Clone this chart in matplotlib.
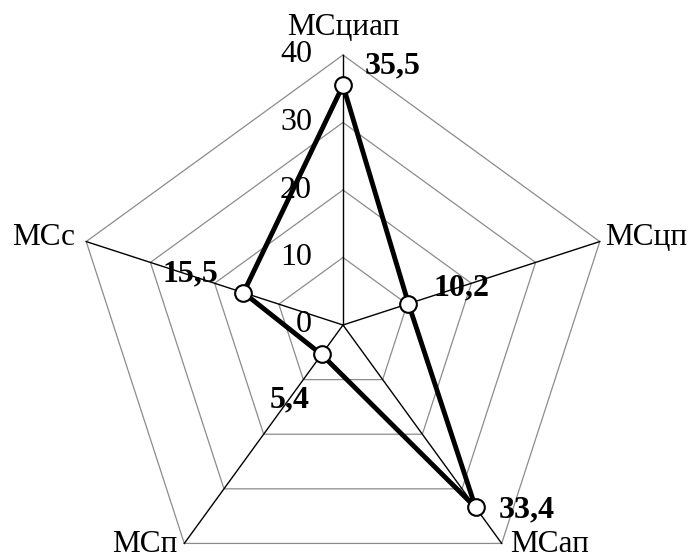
import numpy as np
import matplotlib
matplotlib.use('Agg')
import matplotlib.pyplot as plt

# axis names, clockwise from the top
categories = ['МСциап', 'МСцп', 'МСап', 'МСп', 'МСс']
values = [35.5, 10.2, 33.4, 5.4, 15.5]
value_labels = ['35,5', '10,2', '33,4', '5,4', '15,5']
grid_levels = [10, 20, 30, 40]
tick_labels = ['0', '10', '20', '30', '40']

plt.rcParams['font.family'] = ['Liberation Serif', 'DejaVu Serif']

W, H = 697, 560
fig = plt.figure(figsize=(W / 100, H / 100), dpi=100)
cx, cy, R = 343, 325, 270
ax = fig.add_axes([(cx - R) / W, (H - cy - R) / H, 2 * R / W, 2 * R / H], projection='polar')
ax.set_theta_zero_location('N')
ax.set_theta_direction(-1)
ax.set_ylim(0, 40)
ax.axis('off')

n = len(categories)
angles = np.arange(n) * 2 * np.pi / n
closed = np.append(angles, angles[0])

# pentagon grid
for lev in grid_levels:
    ax.plot(closed, [lev] * (n + 1), color='#8c8c8c', lw=0.9, zorder=1, clip_on=False)

# spokes
for a in angles:
    ax.plot([a, a], [0, 40], color='black', lw=1.0, zorder=2, clip_on=False)

# tick labels along the top axis
for lev, t in zip([0] + grid_levels, tick_labels):
    ax.annotate(t, xy=(0, lev), xytext=(-31, 0), textcoords='offset pixels',
                ha='right', va='center', fontsize=23, annotation_clip=False, zorder=3)

# data polygon
vals = np.append(values, values[0])
ax.plot(closed, vals, color='black', lw=3.5, zorder=4, clip_on=False)
ax.plot(angles, values, 'o', ms=12, mfc='white', mec='black', mew=1.5, zorder=5, clip_on=False)

# value labels
val_offsets = [(22, 19, 'left'), (25, 16, 'left'), (23, -3, 'left'), (-12, -45, 'right'), (-25, 19, 'right')]
for a, v, lab, (dx, dy, ha) in zip(angles, values, value_labels, val_offsets):
    ax.annotate(lab, xy=(a, v), xytext=(dx, dy), textcoords='offset pixels',
                ha=ha, va='center', fontsize=23, fontweight='bold',
                annotation_clip=False, zorder=6)

# category labels
cat_offsets = [(0, 20, 'center', 'baseline'), (5, -3, 'left', 'baseline'),
               (8, -16, 'left', 'bottom'), (-7, -16, 'right', 'bottom'),
               (-11, -3, 'right', 'baseline')]
for a, c, (dx, dy, ha, va) in zip(angles, categories, cat_offsets):
    ax.annotate(c, xy=(a, 40), xytext=(dx, dy), textcoords='offset pixels',
                ha=ha, va=va, fontsize=22.5, annotation_clip=False)

fig.savefig('out.png', dpi=100)
